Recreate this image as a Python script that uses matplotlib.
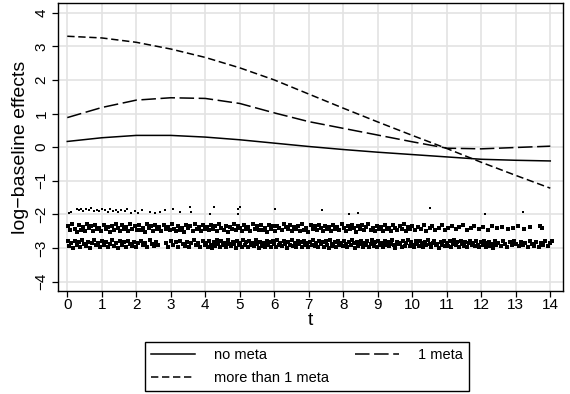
import matplotlib
matplotlib.use("Agg")
import matplotlib.pyplot as plt
from matplotlib.lines import Line2D

plt.rcParams['font.family'] = ['Liberation Sans', 'DejaVu Sans']

# baseline effect estimates on a grid of t
t = list(range(0, 15))
no_meta = [0.17, 0.28, 0.35, 0.35, 0.30, 0.22, 0.12, 0.02, -0.07, -0.15, -0.22, -0.29, -0.36, -0.39, -0.41]
one_meta = [0.88, 1.18, 1.40, 1.47, 1.45, 1.30, 1.02, 0.76, 0.56, 0.36, 0.16, -0.03, -0.05, -0.01, 0.03]
more_meta = [3.30, 3.25, 3.12, 2.92, 2.67, 2.36, 2.00, 1.58, 1.16, 0.75, 0.35, -0.04, -0.45, -0.84, -1.22]

# observed event times, jittered vertically per group
events_more = [
    (0.04, -1.95), (0.10, -1.92), (0.28, -1.84), (0.35, -1.88), (0.41, -1.83), (0.47, -1.90),
    (0.55, -1.85), (0.62, -1.87), (0.70, -1.82), (0.78, -1.89), (0.86, -1.86), (0.93, -1.91),
    (1.02, -1.84), (1.10, -1.88), (1.17, -1.93), (1.25, -1.85), (1.33, -1.90), (1.40, -1.87),
    (1.48, -1.94), (1.57, -1.86), (1.66, -1.91), (1.73, -1.83), (1.84, -1.95), (1.95, -1.89),
    (2.06, -1.96), (2.18, -1.87), (2.40, -1.93), (2.55, -1.97), (2.68, -1.92), (2.83, -1.86),
    (3.07, -1.85), (3.27, -1.94), (3.56, -1.79), (3.60, -1.94), (4.14, -1.99), (4.25, -1.79),
    (4.94, -1.85), (4.95, -1.98), (5.00, -1.79), (6.02, -1.85), (7.37, -1.87), (8.17, -2.00),
    (8.43, -1.95), (10.51, -1.82), (12.10, -1.99), (13.20, -1.92),
]
events_one = [
    (0.03, -2.36), (0.09, -2.47), (0.15, -2.30), (0.21, -2.42), (0.27, -2.51), (0.33, -2.33),
    (0.39, -2.45), (0.45, -2.38), (0.51, -2.49), (0.57, -2.29), (0.63, -2.41), (0.69, -2.35),
    (0.75, -2.50), (0.81, -2.32), (0.87, -2.44), (0.93, -2.39), (0.99, -2.48), (1.05, -2.31),
    (1.11, -2.43), (1.17, -2.37), (1.23, -2.51), (1.29, -2.34), (1.35, -2.46), (1.41, -2.29),
    (1.47, -2.40), (1.53, -2.49), (1.59, -2.33), (1.65, -2.44), (1.71, -2.38), (1.77, -2.50),
    (1.83, -2.30), (1.89, -2.42), (1.95, -2.36), (2.01, -2.47), (2.07, -2.32), (2.13, -2.45),
    (2.19, -2.39), (2.25, -2.51), (2.31, -2.29), (2.37, -2.41), (2.43, -2.35), (2.49, -2.48),
    (2.55, -2.33), (2.61, -2.44), (2.67, -2.38), (2.73, -2.50), (2.79, -2.31), (2.85, -2.43),
    (2.91, -2.37), (2.97, -2.46), (3.03, -2.30), (3.09, -2.42), (3.15, -2.49), (3.21, -2.34),
    (3.27, -2.45), (3.33, -2.39), (3.39, -2.51), (3.45, -2.32), (3.51, -2.41), (3.57, -2.36),
    (3.63, -2.48), (3.69, -2.29), (3.75, -2.43), (3.81, -2.38), (3.87, -2.50), (3.93, -2.33),
    (3.99, -2.44), (4.05, -2.37), (4.11, -2.47), (4.17, -2.31), (4.23, -2.42), (4.29, -2.35),
    (4.35, -2.49), (4.41, -2.30), (4.47, -2.40), (4.53, -2.45), (4.59, -2.34), (4.65, -2.51),
    (4.71, -2.38), (4.77, -2.43), (4.83, -2.29), (4.89, -2.46), (4.95, -2.36), (5.01, -2.41),
    (5.07, -2.50), (5.13, -2.32), (5.19, -2.44), (5.25, -2.37), (5.31, -2.48), (5.37, -2.30),
    (5.43, -2.42), (5.49, -2.35), (5.55, -2.47), (5.61, -2.33), (5.67, -2.45), (5.73, -2.39),
    (5.79, -2.51), (5.85, -2.31), (5.91, -2.43), (5.97, -2.36), (6.03, -2.49), (6.09, -2.34),
    (6.15, -2.41), (6.21, -2.46), (6.27, -2.29), (6.33, -2.38), (6.39, -2.44), (6.45, -2.32),
    (6.51, -2.50), (6.57, -2.37), (6.63, -2.42), (6.69, -2.35), (6.75, -2.48), (6.81, -2.30),
    (6.87, -2.45), (6.93, -2.39), (6.99, -2.51), (7.05, -2.33), (7.11, -2.43), (7.17, -2.36),
    (7.23, -2.47), (7.29, -2.31), (7.35, -2.41), (7.41, -2.49), (7.47, -2.34), (7.53, -2.44),
    (7.59, -2.38), (7.65, -2.50), (7.71, -2.32), (7.77, -2.42), (7.83, -2.37), (7.89, -2.46),
    (7.95, -2.30), (8.01, -2.40), (8.07, -2.48), (8.13, -2.35), (8.19, -2.44), (8.25, -2.31),
    (8.31, -2.39), (8.37, -2.51), (8.43, -2.36), (8.49, -2.43), (8.55, -2.33), (8.61, -2.47),
    (8.67, -2.38), (8.73, -2.29), (8.79, -2.45), (8.85, -2.41), (8.91, -2.50), (8.97, -2.34),
    (9.03, -2.42), (9.09, -2.37), (9.15, -2.48), (9.21, -2.31), (9.27, -2.44), (9.33, -2.39),
    (9.39, -2.50), (9.45, -2.33), (9.51, -2.41), (9.57, -2.46), (9.63, -2.35), (9.69, -2.43),
    (9.75, -2.30), (9.81, -2.49), (9.87, -2.38), (9.93, -2.44), (9.99, -2.34), (10.08, -2.46),
    (10.17, -2.37), (10.24, -2.42), (10.33, -2.31), (10.41, -2.48), (10.50, -2.40), (10.58, -2.35),
    (10.66, -2.45), (10.77, -2.39), (10.86, -2.33), (10.95, -2.47), (11.04, -2.41), (11.15, -2.36),
    (11.26, -2.44), (11.36, -2.38), (11.47, -2.31), (11.58, -2.46), (11.69, -2.40), (11.80, -2.35),
    (11.93, -2.43), (12.05, -2.38), (12.19, -2.45), (12.32, -2.34), (12.47, -2.41), (12.61, -2.37),
    (12.78, -2.44), (12.93, -2.39), (13.07, -2.35), (13.24, -2.42), (13.40, -2.38), (13.70, -2.36),
    (13.76, -2.41),
]
events_none = [
    (0.02, -2.80), (0.06, -2.95), (0.11, -2.86), (0.17, -2.99), (0.22, -2.78), (0.27, -2.91),
    (0.33, -2.83), (0.38, -2.97), (0.44, -2.77), (0.49, -2.89), (0.55, -2.94), (0.61, -2.81),
    (0.66, -2.99), (0.72, -2.86), (0.78, -2.76), (0.83, -2.92), (0.89, -2.84), (0.95, -2.97),
    (1.01, -2.79), (1.06, -2.90), (1.12, -2.82), (1.18, -2.96), (1.24, -2.87), (1.30, -2.77),
    (1.35, -2.93), (1.41, -2.85), (1.47, -2.99), (1.53, -2.80), (1.58, -2.91), (1.64, -2.83),
    (1.70, -2.96), (1.76, -2.78), (1.82, -2.88), (1.88, -2.94), (1.94, -2.81), (2.00, -2.98),
    (2.06, -2.86), (2.13, -2.79), (2.19, -2.92), (2.26, -2.84), (2.32, -2.97), (2.39, -2.77),
    (2.45, -2.89), (2.52, -2.95), (2.58, -2.82), (2.63, -2.90), (2.87, -2.85), (2.93, -2.97),
    (3.00, -2.79), (3.07, -2.91), (3.14, -2.83), (3.20, -2.96), (3.27, -2.78), (3.34, -2.88),
    (3.40, -2.94), (3.47, -2.81), (3.54, -2.98), (3.60, -2.86), (3.67, -2.77), (3.73, -2.92),
    (3.80, -2.84), (3.86, -2.97), (3.93, -2.80), (3.98, -2.90), (4.03, -2.84), (4.07, -2.96),
    (4.11, -2.78), (4.16, -2.90), (4.20, -2.99), (4.25, -2.82), (4.29, -2.93), (4.34, -2.76),
    (4.38, -2.87), (4.43, -2.97), (4.47, -2.80), (4.52, -2.91), (4.56, -2.85), (4.61, -2.98),
    (4.65, -2.77), (4.70, -2.89), (4.74, -2.94), (4.79, -2.81), (4.83, -2.88), (4.88, -2.99),
    (4.92, -2.79), (4.97, -2.92), (5.01, -2.84), (5.06, -2.96), (5.10, -2.77), (5.15, -2.90),
    (5.19, -2.83), (5.24, -2.98), (5.28, -2.79), (5.33, -2.91), (5.37, -2.86), (5.42, -2.95),
    (5.46, -2.76), (5.51, -2.88), (5.55, -2.99), (5.60, -2.81), (5.64, -2.93), (5.69, -2.85),
    (5.73, -2.97), (5.78, -2.78), (5.82, -2.90), (5.87, -2.83), (5.91, -2.96), (5.96, -2.80),
    (6.00, -2.89), (6.05, -2.98), (6.09, -2.77), (6.14, -2.92), (6.18, -2.84), (6.23, -2.95),
    (6.27, -2.79), (6.32, -2.87), (6.36, -2.99), (6.41, -2.82), (6.45, -2.91), (6.50, -2.76),
    (6.54, -2.94), (6.59, -2.85), (6.63, -2.97), (6.68, -2.80), (6.72, -2.89), (6.77, -2.83),
    (6.81, -2.96), (6.86, -2.78), (6.90, -2.92), (6.95, -2.86), (6.99, -2.98), (7.04, -2.81),
    (7.08, -2.90), (7.13, -2.77), (7.17, -2.94), (7.22, -2.85), (7.26, -2.97), (7.31, -2.79),
    (7.35, -2.88), (7.40, -2.83), (7.44, -2.96), (7.49, -2.80), (7.53, -2.91), (7.58, -2.99),
    (7.62, -2.77), (7.67, -2.87), (7.71, -2.93), (7.76, -2.82), (7.80, -2.98), (7.85, -2.78),
    (7.89, -2.90), (7.94, -2.85), (7.98, -2.95), (8.03, -2.79), (8.07, -2.89), (8.12, -2.97),
    (8.16, -2.83), (8.21, -2.92), (8.25, -2.76), (8.30, -2.86), (8.34, -2.99), (8.39, -2.81),
    (8.43, -2.94), (8.48, -2.88), (8.52, -2.78), (8.57, -2.96), (8.61, -2.84), (8.66, -2.91),
    (8.70, -2.80), (8.75, -2.98), (8.79, -2.87), (8.84, -2.77), (8.88, -2.93), (8.93, -2.83),
    (8.97, -2.96), (9.02, -2.79), (9.06, -2.90), (9.11, -2.85), (9.15, -2.98), (9.20, -2.78),
    (9.24, -2.92), (9.29, -2.82), (9.33, -2.95), (9.38, -2.87), (9.42, -2.76), (9.47, -2.91),
    (9.51, -2.99), (9.56, -2.81), (9.60, -2.89), (9.65, -2.84), (9.69, -2.97), (9.74, -2.79),
    (9.78, -2.93), (9.83, -2.86), (9.87, -2.77), (9.92, -2.95), (9.96, -2.83), (10.01, -2.90),
    (10.05, -2.98), (10.10, -2.80), (10.14, -2.88), (10.19, -2.94), (10.23, -2.78), (10.28, -2.86),
    (10.32, -2.97), (10.37, -2.82), (10.41, -2.91), (10.46, -2.77), (10.50, -2.89), (10.55, -2.96),
    (10.59, -2.84), (10.64, -2.79), (10.68, -2.92), (10.73, -2.87), (10.77, -2.99), (10.82, -2.81),
    (10.86, -2.90), (10.91, -2.78), (10.95, -2.95), (11.00, -2.85), (11.04, -2.93), (11.09, -2.80),
    (11.13, -2.97), (11.18, -2.88), (11.22, -2.77), (11.27, -2.91), (11.31, -2.83), (11.36, -2.96),
    (11.40, -2.79), (11.45, -2.89), (11.49, -2.94), (11.54, -2.82), (11.58, -2.98), (11.63, -2.86),
    (11.67, -2.78), (11.72, -2.92), (11.76, -2.84), (11.81, -2.95), (11.85, -2.80), (11.90, -2.90),
    (11.94, -2.97), (11.99, -2.83), (12.04, -2.91), (12.08, -2.78), (12.13, -2.96), (12.17, -2.86),
    (12.22, -2.81), (12.26, -2.93), (12.31, -2.88), (12.35, -2.99), (12.40, -2.79), (12.44, -2.90),
    (12.49, -2.84), (12.56, -2.95), (12.62, -2.80), (12.69, -2.89), (12.75, -2.97), (12.82, -2.83),
    (12.88, -2.92), (12.95, -2.78), (13.01, -2.87), (13.08, -2.95), (13.14, -2.81), (13.21, -2.90),
    (13.27, -2.85), (13.34, -2.96), (13.40, -2.79), (13.47, -2.88), (13.53, -2.93), (13.60, -2.82),
    (13.66, -2.98), (13.73, -2.86), (13.79, -2.91), (13.86, -2.80), (13.92, -2.94), (13.98, -2.85),
    (14.06, -2.78),
]

labels = ['no meta', '1 meta', 'more than 1 meta']
long_dash = (0, (9.5, 3.0))
short_dash = (0, (4.8, 2.4))

fig = plt.figure(figsize=(5.7, 3.94), dpi=100)
ax = fig.add_axes([0.1023, 0.2622, 0.8849, 0.7294])

ax.set_xlim(-0.26, 14.36)
ax.set_ylim(-4.27, 4.28)
ax.set_xticks(range(0, 15))
ax.set_yticks(range(-4, 5))
ax.grid(True, color='#e3e3e3', linewidth=1.2)
ax.set_axisbelow(True)

# the sparse top band uses finer dots than the two crowded ones
for ev, size in ((events_more, 1.8), (events_one, 2.8), (events_none, 3.0)):
    ax.plot([p[0] for p in ev], [p[1] for p in ev], linestyle='none', marker='s',
            markersize=size, markeredgewidth=0, color='black')

ax.plot(t, no_meta, color='black', linewidth=1.1, linestyle='-')
ax.plot(t, one_meta, color='black', linewidth=1.1, linestyle=long_dash)
ax.plot(t, more_meta, color='black', linewidth=1.1, linestyle=short_dash)

for side in ax.spines.values():
    side.set_linewidth(1.0)
    side.set_color('black')

ax.tick_params(axis='both', direction='out', length=4, width=0.9, labelsize=11, colors='black')
ax.tick_params(axis='x', pad=1)
ax.tick_params(axis='y', pad=3, labelrotation=90)
for lab in ax.get_yticklabels():
    lab.set_verticalalignment('center')

ax.set_xlabel('t', fontsize=14, labelpad=0)
ax.set_ylabel('log\u2212baseline effects', fontsize=14, labelpad=4)

handles = [
    Line2D([], [], color='black', linewidth=1.1, linestyle='-'),
    Line2D([], [], color='black', linewidth=1.1, linestyle=short_dash),
    Line2D([], [], color='black', linewidth=1.1, linestyle=long_dash),
]
leg = fig.legend(handles, [labels[0], labels[2], labels[1]], loc='center',
                 bbox_to_anchor=(0.5386, 0.0698), ncol=2, fontsize=10.5,
                 frameon=True, fancybox=False, framealpha=1, edgecolor='black',
                 handlelength=3.0, handletextpad=1.3, columnspacing=1.8,
                 borderpad=0.4, labelspacing=0.6, borderaxespad=0)
leg.get_frame().set_linewidth(1.0)

fig.savefig('out.png', dpi=100)
